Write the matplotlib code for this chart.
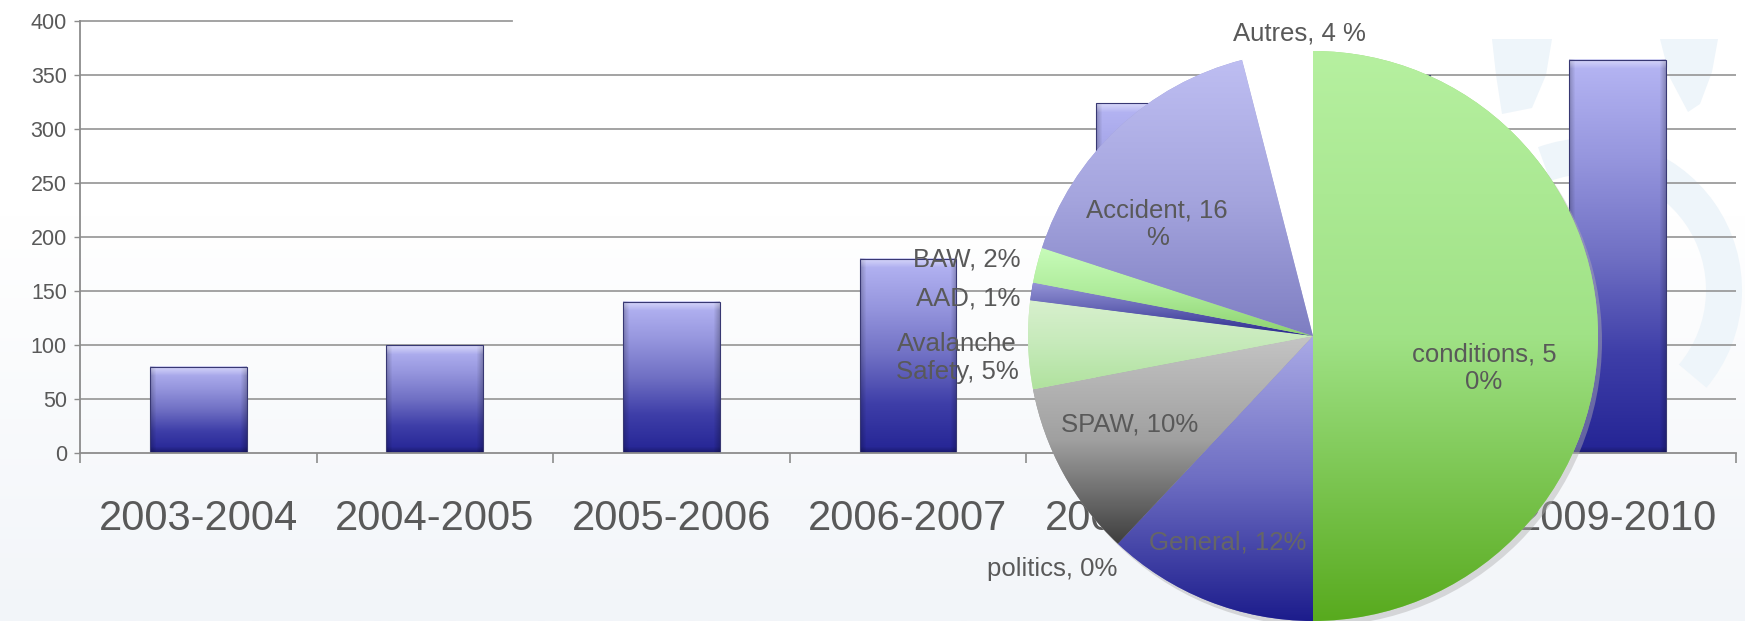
import numpy as np
import matplotlib
matplotlib.use('Agg')
import matplotlib.pyplot as plt
from matplotlib import font_manager as fm
from matplotlib.patches import Polygon, Wedge, Circle

# ---------------- data ----------------
seasons = ['2003-2004', '2004-2005', '2005-2006', '2006-2007',
           '2007-2008', '2008-2009', '2009-2010']
counts = [80, 100, 140, 180, 324, 350, 364]
y_ticks = [0, 50, 100, 150, 200, 250, 300, 350, 400]

pie_names = ['conditions', 'General', 'politics', 'SPAW', 'Avalanche Safety',
             'AAD', 'BAW', 'Accident', 'Autres']
pie_values = [50, 12, 0, 10, 5, 1, 2, 16, 4]
pie_labels = ['conditions, 5\n0%', 'General, 12%', 'politics, 0%', 'SPAW, 10%',
              'Avalanche\nSafety, 5%', 'AAD, 1%', 'BAW, 2%', 'Accident, 16\n%',
              'Autres, 4 %']

# ---------------- styles / layout ----------------
names = {f.name for f in fm.fontManager.ttflist}
SANS = 'Liberation Sans' if 'Liberation Sans' in names else 'DejaVu Sans'
TXT = '#595959'
GRID = '#9c9c9c'

# gradient stops (top -> bottom) per pie slice, None = flat white
pie_grad = [
    [(182, 240, 160), (160, 226, 134), (88, 170, 30)],
    [(170, 170, 230), (110, 110, 195), (28, 28, 140)],
    [(190, 190, 190), (190, 190, 190), (120, 120, 120)],
    [(196, 196, 196), (160, 160, 160), (62, 62, 62)],
    [(216, 240, 206), (198, 234, 186), (176, 226, 158)],
    [(150, 150, 215), (100, 100, 180), (40, 40, 140)],
    [(200, 252, 186), (175, 236, 155), (140, 210, 110)],
    [(190, 190, 242), (165, 165, 222), (126, 126, 194)],
    None,
]
pie_flat = ['#9fd97f', '#6a6ac0', '#999999', '#9a9a9a', '#c6eab6',
            '#6464b4', '#aee79a', '#a0a0d8', 'white']
# label placement (pie axes coords, ha)
pie_label_pos = [(0.600, -0.112, 'center'), (-0.298, -0.723, 'center'),
                 (-0.916, -0.818, 'center'), (-0.642, -0.309, 'center'),
                 (-1.249, -0.077, 'center'), (-1.028, 0.130, 'right'),
                 (-1.028, 0.267, 'right'), (-0.547, 0.393, 'center'),
                 (-0.049, 1.063, 'center')]
pie_label_colors = [TXT, '#666666', TXT, TXT, TXT, TXT, TXT, TXT, TXT]

W, H = 1745, 621
fig = plt.figure(figsize=(W / 100, H / 100), dpi=100)
fig.patch.set_facecolor('white')


def vgrad(stops, n=256):
    t = np.linspace(0, 1, n)
    st = np.linspace(0, 1, len(stops))
    c = np.array(stops, dtype=float) / 255.0
    col = np.stack([np.interp(t, st, c[:, k]) for k in range(3)], axis=1)
    return col[:, None, :]


# ---------------- background ----------------
bg = fig.add_axes([0, 0, 1, 1], zorder=0)
bg.set_xlim(0, W)
bg.set_ylim(H, 0)
bg.axis('off')
t = np.linspace(0, 1, 300)
g = np.clip((t - 0.35) / 0.65, 0, 1)[:, None, None]
bgimg = np.array([1, 1, 1]) * (1 - g) + np.array([242, 245, 249]) / 255 * g
bg.imshow(bgimg, extent=(0, W, H, 0), aspect='auto', interpolation='bilinear')
wm = '#eef5fa'
bg.add_patch(Polygon([(1492, 39), (1552, 39), (1546, 75), (1532, 108),
                      (1502, 114), (1496, 75)], closed=True, fc=wm, ec='none'))
bg.add_patch(Polygon([(1660, 39), (1718, 39), (1712, 72), (1700, 104),
                      (1688, 112), (1670, 78)], closed=True, fc=wm, ec='none'))
bg.add_patch(Wedge((1590, 290), 152, -110, 40, width=36, fc=wm, ec='none'))
bg.set_xlim(0, W)
bg.set_ylim(H, 0)

# ---------------- bar chart ----------------
ax = fig.add_axes([80 / W, 1 - 453 / H, (1736 - 80) / W, (453 - 21) / H], zorder=1)
ax.patch.set_alpha(0)
xpos = np.arange(len(seasons))

for v in y_ticks[1:-1]:
    ax.axhline(v, color=GRID, lw=1.3, zorder=1)
ax.axhline(y_ticks[-1], xmin=0, xmax=0.261, color=GRID, lw=1.3, zorder=1, clip_on=False)

bars = ax.bar(xpos, counts, width=0.41, facecolor='none',
              edgecolor=(0.22, 0.22, 0.45), lw=0.8, zorder=4)


def bar_image(hpx, m=97):
    n = max(int(round(hpx)), 6)
    base = vgrad([(182, 182, 244), (150, 150, 222), (112, 112, 196),
                  (62, 62, 168), (36, 36, 148)], n)[:, 0, :]
    img = np.repeat(base[:, None, :], m, axis=1)
    xs = np.arange(m)
    edge = np.clip(1 - np.minimum(xs, m - 1 - xs) / 6.0, 0, 1)
    img = img * (1 - 0.22 * edge)[None, :, None]
    ys = np.arange(n)
    top = np.clip(1 - ys / 9.0, 0, 1)
    img = img + (1 - img) * 0.45 * top[:, None, None]
    bot = np.clip(1 - (n - 1 - ys) / 6.0, 0, 1)
    img = img * (1 - 0.25 * bot)[:, None, None]
    return np.clip(img, 0, 1)


for b in bars:
    x0, y0, w, h = b.get_x(), b.get_y(), b.get_width(), b.get_height()
    hpx = h / 400.0 * 432
    ax.imshow(bar_image(hpx), extent=(x0, x0 + w, y0, y0 + h), origin='upper',
              aspect='auto', interpolation='bilinear', zorder=3)

ax.set_xlim(-0.5, len(seasons) - 0.5)
ax.set_ylim(0, 400)
ax.set_aspect('auto')
for s in ['top', 'right']:
    ax.spines[s].set_visible(False)
for s in ['left', 'bottom']:
    ax.spines[s].set_color('#8c8c8c')
    ax.spines[s].set_linewidth(1.3)
    ax.spines[s].set_zorder(5)

ax.set_yticks(y_ticks)
ax.set_yticklabels([str(v) for v in y_ticks], fontsize=15.5, color=TXT, family=SANS)
ax.tick_params(axis='y', direction='out', length=4.5, width=1, color='#8c8c8c', pad=5)
ax.set_xticks(xpos)
ax.set_xticklabels(seasons, fontsize=30, color=TXT, family=SANS)
ax.tick_params(axis='x', which='major', length=0, pad=33)
ax.set_xticks(np.arange(len(seasons) + 1) - 0.5, minor=True)
ax.tick_params(axis='x', which='minor', direction='out', length=7.5, width=1.2,
               color='#8c8c8c')

# ---------------- pie ----------------
R = 285
pax = fig.add_axes([(1313 - R) / W, (H - 336 - R) / H, 2 * R / W, 2 * R / H], zorder=2)
pax.patch.set_alpha(0)
pax.add_patch(Circle((0.014, -0.018), 1.0, fc='#b0b0b0', ec='none', alpha=0.45,
                     zorder=0, clip_on=False))
wedges, _ = pax.pie(pie_values, startangle=90, counterclock=False, radius=1,
                    colors=pie_flat, wedgeprops=dict(linewidth=0))
for wdg, v, stops in zip(wedges, pie_values, pie_grad):
    wdg.set_clip_on(False)
    if v <= 0 or stops is None:
        continue
    bb = wdg.get_path().get_extents()
    im = pax.imshow(vgrad(stops), extent=(bb.x0, bb.x1, bb.y0, bb.y1), origin='upper',
                    aspect='auto', interpolation='bilinear', zorder=wdg.get_zorder() + 0.1)
    im.set_clip_path(wdg)
    im.set_clip_on(True)

pax.set_xlim(-1, 1)
pax.set_ylim(-1, 1)
pax.set_aspect('equal')
pax.axis('off')

for lab, (lx, ly, ha), col in zip(pie_labels, pie_label_pos, pie_label_colors):
    pax.text(lx, ly, lab, ha=ha, va='center', multialignment='center',
             fontsize=18.5, color=col, family=SANS, zorder=10, clip_on=False)

fig.savefig('out.png', dpi=100)
